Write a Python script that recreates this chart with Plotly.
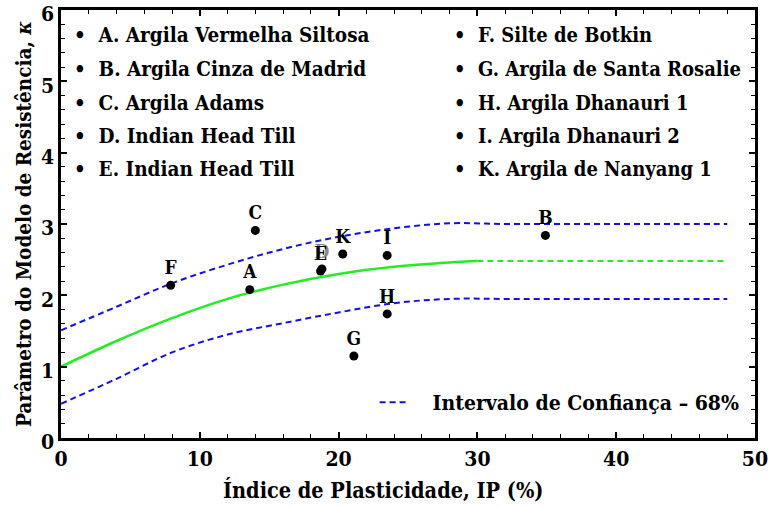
import plotly.graph_objects as go

# Soil data points: plasticity index (%) and strength-model parameter kappa
labels = ["A", "B", "C", "D", "E", "F", "G", "H", "I", "K"]
ip_pts = [13.6, 34.9, 14.0, 18.8, 18.7, 7.9, 21.1, 23.5, 23.5, 20.3]
kappa_pts = [2.08, 2.84, 2.91, 2.37, 2.34, 2.14, 1.15, 1.74, 2.56, 2.58]

names_left = ["A. Argila Vermelha Siltosa", "B. Argila Cinza de Madrid",
              "C. Argila Adams", "D. Indian Head Till", "E. Indian Head Till"]
names_right = ["F. Silte de Botkin", "G. Argila de Santa Rosalie",
               "H. Argila Dhanauri 1", "I. Argila Dhanauri 2",
               "K. Argila de Nanyang 1"]

# Fitted curve (solid) and its extension (dashed)
ip_fit = [0, 4, 8, 12, 16, 20, 24, 28, 30]
k_fit = [1.0, 1.36, 1.68, 1.95, 2.15, 2.30, 2.40, 2.46, 2.48]
ip_ext = [30, 48]
k_ext = [2.48, 2.48]

# 68% confidence band limits
ip_band = [0, 4, 8, 12, 16, 20, 24, 28, 32, 36, 40, 44, 48]
k_upper = [1.51, 1.84, 2.17, 2.43, 2.65, 2.82, 2.94, 3.01, 3.00, 3.00, 3.00, 3.00, 3.00]
k_lower = [0.48, 0.83, 1.20, 1.45, 1.61, 1.76, 1.89, 1.95, 1.95, 1.95, 1.95, 1.95, 1.95]

FONT = "DejaVu Serif Condensed, Liberation Serif, serif"
BLUE = "#1010ee"
GREEN = "#22ee22"
NBSP = "\u00a0"

W, H = 768, 508
ML, MR, MT, MB = 61, 13, 10, 70
pw, ph = W - ML - MR, H - MT - MB


def px_x(p):
    return (p - ML) / pw


def px_y(p):
    return 1 - (p - MT) / ph


fig = go.Figure()

fig.add_trace(go.Scatter(x=ip_band, y=k_upper, mode="lines", line_shape="spline",
                         line=dict(color=BLUE, width=2, dash="6px,4px"),
                         name=NBSP * 3 + "<b>Intervalo de Confiança – 68%</b>",
                         showlegend=True))
fig.add_trace(go.Scatter(x=ip_band, y=k_lower, mode="lines", line_shape="spline",
                         line=dict(color=BLUE, width=2, dash="6px,4px"),
                         showlegend=False))
fig.add_trace(go.Scatter(x=ip_fit, y=k_fit, mode="lines", line_shape="spline",
                         line=dict(color=GREEN, width=2.5), showlegend=False))
fig.add_trace(go.Scatter(x=ip_ext, y=k_ext, mode="lines",
                         line=dict(color=GREEN, width=2, dash="6px,4px"),
                         showlegend=False))

label_colors = ["#888888" if l == "D" else "black" for l in labels]
fig.add_trace(go.Scatter(x=ip_pts, y=kappa_pts, mode="markers+text",
                         text=["<b>" + l + "</b>" for l in labels],
                         textposition="top center",
                         textfont=dict(family=FONT, size=19, color=label_colors),
                         marker=dict(color="black", size=9), showlegend=False))

# Key of soil names as bulleted text
row_y = [35, 69, 103, 136, 169]
for col_x, names, fs in ((72, names_left, 20.5), (452, names_right, 20)):
    for i, n in enumerate(names):
        fig.add_annotation(x=px_x(col_x), y=px_y(row_y[i]), xref="paper", yref="paper",
                           text="<b>•  " + n + "</b>", showarrow=False,
                           xanchor="left", yanchor="middle",
                           font=dict(family=FONT, size=fs, color="black"))

# x-axis title
fig.add_annotation(x=px_x(383), y=px_y(490), xref="paper", yref="paper",
                   text="<b>Índice de Plasticidade, IP (%)</b>", showarrow=False,
                   xanchor="center", yanchor="middle",
                   font=dict(family=FONT, size=21.5, color="black"))

axis_common = dict(showline=True, linecolor="black", linewidth=2.5, mirror="allticks",
                   ticks="inside", ticklen=6, tickwidth=1.5, tickcolor="black",
                   showgrid=False, zeroline=False, automargin=False,
                   ticklabeloverflow="allow",
                   tickprefix="<b>", ticksuffix="</b>",
                   tickfont=dict(family=FONT, size=21, color="black"),
                   minor=dict(ticks="inside", ticklen=4, tickwidth=1.2, tickcolor="black"))

fig.update_layout(
    width=W, height=H,
    margin=dict(l=ML, r=MR, t=MT, b=MB, autoexpand=False),
    paper_bgcolor="white", plot_bgcolor="white",
    font=dict(family=FONT, color="black"),
    xaxis=dict(range=[0, 50], dtick=10, **axis_common),
    yaxis=dict(range=[0, 6], dtick=1, ticklabelshift=4,
               title=dict(text="<b>Parâmetro do Modelo de Resistência, <i>κ</i></b>", standoff=4,
                          font=dict(family=FONT, size=20.5, color="black")),
               **axis_common),
    legend=dict(x=0.985, y=0.035, xanchor="right", yanchor="bottom",
                bgcolor="rgba(0,0,0,0)",
                font=dict(family=FONT, size=21, color="black")),
)
fig.update_xaxes(minor_dtick=2)
fig.update_yaxes(minor_dtick=0.2)

fig.write_html("out.html")
